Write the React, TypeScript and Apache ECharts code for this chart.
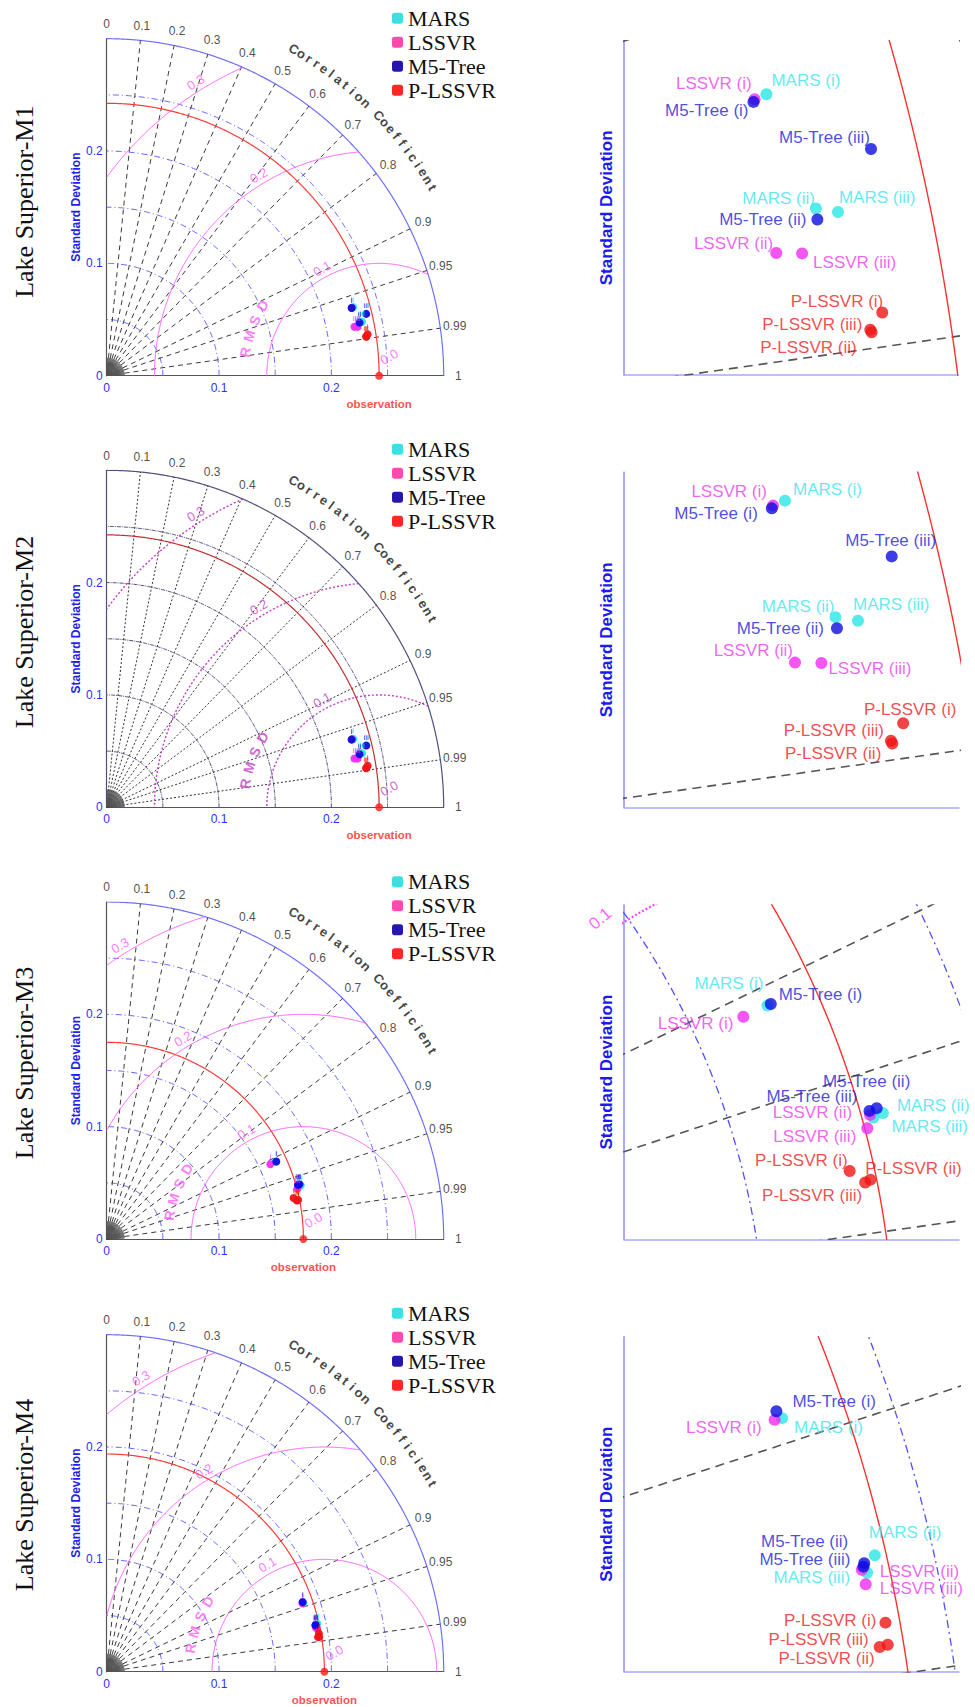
import React, { useEffect, useRef } from 'react';
import * as echarts from 'echarts';

// ---------------- data ----------------
const models = ['MARS', 'LSSVR', 'M5-Tree', 'P-LSSVR'];
const cases = ['i', 'ii', 'iii'];
const panelTitles = ['Lake Superior-M1', 'Lake Superior-M2', 'Lake Superior-M3', 'Lake Superior-M4'];
const observedStd = [0.2425, 0.2425, 0.1751, 0.1938];
const corrTicks = [0, 0.1, 0.2, 0.3, 0.4, 0.5, 0.6, 0.7, 0.8, 0.9, 0.95, 0.99, 1];
const corrTickLabels = ['0', '0.1', '0.2', '0.3', '0.4', '0.5', '0.6', '0.7', '0.8', '0.9', '0.95', '0.99', '1'];
const stdGridLevels = [0.05, 0.1, 0.15, 0.2, 0.25];
const stdMax = 0.3;
const stdTickLabels = ['0', '0.1', '0.2'];
const rmsdLevels = [0.1, 0.2, 0.3];
const rmsdLabels = ['0.1', '0.2', '0.3'];

// std and correlation, [model][case i, ii, iii]
const stdM1 = [[0.2278, 0.2301, 0.2324], [0.2264, 0.2248, 0.2276], [0.2262, 0.2300, 0.2375], [0.2352, 0.2337, 0.2336]];
const corrM1 = [[0.9634, 0.9776, 0.9784], [0.9636, 0.9811, 0.9816], [0.9639, 0.9787, 0.9728], [0.9876, 0.9889, 0.9887]];
const stdM2 = [[0.2278, 0.2301, 0.2324], [0.2264, 0.2248, 0.2276], [0.2262, 0.2300, 0.2375], [0.2352, 0.2337, 0.2336]];
const corrM2 = [[0.9634, 0.9776, 0.9784], [0.9636, 0.9811, 0.9816], [0.9639, 0.9787, 0.9728], [0.9876, 0.9889, 0.9887]];
const stdM3 = [[0.1653, 0.1793, 0.1773], [0.1601, 0.1768, 0.1756], [0.1660, 0.1784, 0.1769], [0.1703, 0.1739, 0.1728]];
const corrM3 = [[0.9095, 0.9639, 0.9644], [0.9096, 0.9634, 0.9669], [0.9095, 0.9620, 0.9622], [0.9768, 0.9798, 0.9802]];
const stdM4 = [[0.1855, 0.1923, 0.1908], [0.1845, 0.1902, 0.1903], [0.1851, 0.1907, 0.1905], [0.1919, 0.1917, 0.1906]];
const corrM4 = [[0.9442, 0.9748, 0.9771], [0.9440, 0.9765, 0.9787], [0.9422, 0.9756, 0.9761], [0.9842, 0.9868, 0.9869]];

const stdAll = [stdM1, stdM2, stdM3, stdM4];
const corrAll = [corrM1, corrM2, corrM3, corrM4];

// ---------------- layout / style ----------------
const SERIF = "'Liberation Serif', 'Times New Roman', Times, serif";
const SANS = "'Liberation Sans', Arial, Helvetica, sans-serif";
const TAYLOR_LEFT = 106.7;
const TAYLOR_SIZE = 337;
const taylorBottom = [375.7, 807.3, 1239, 1671.7];
const zoomLeft = 624;
const zoomTop = [40.7, 472.3, 905, 1336.7];
const zoomW = [334.3, 335, 335, 335];
const zoomH = [334.3, 335, 334.3, 335];
const zoomX = [[0.2037, 0.2407], [0.2020, 0.23834], [0.12237, 0.18766], [0.15419, 0.19862]];
const zoomY = [[0.0300, 0.0670], [0.0278, 0.06414], [0.02315, 0.0883], [0.02747, 0.0719]];
const titleY = [201.7, 632, 1063, 1495];
const legendTop = [6.3, 437.3, 869.7, 1301.3];

// label placement in zoom panels: [align, dx, dy] per [model][case]
const labelPlace: any[] = [
  [
    [['left', 5, -14], ['right', -1, -10], ['left', 1, -14]],
    [['right', -3, -16], ['right', -3, -10], ['left', 11, 9]],
    [['right', -5, 9], ['right', -11, 0], ['right', -1, -11]],
    [['right', 1, -11], ['right', -15, 15], ['right', -8, -5]],
  ],
  [
    [['left', 8, -11], ['right', -1, -11], ['left', -5, -16]],
    [['right', -6, -14], ['right', -2, -12], ['left', 7, 6]],
    [['right', -14, 5], ['right', -13, 0], ['center', -1, -16]],
    [['center', 7, -14], ['right', -11, 10], ['right', -7, -10]],
  ],
  [
    [['right', -4, -22], ['left', 14, -8], ['left', 18, 9]],
    [['right', -10, 7], ['right', -18, -2], ['right', -11, 8]],
    [['left', 8, -9], ['center', -10, -27], ['right', -12, -14]],
    [['right', -2, -10], ['left', -5, -11], ['right', -3, 13]],
  ],
  [
    [['left', 12, 9], ['left', -6, -23], ['right', -17, 5]],
    [['right', -13, 8], ['left', 18, 2], ['left', 14, 4]],
    [['left', 16, -10], ['right', -16, -22], ['right', -13, -7]],
    [['right', -9, -2], ['right', -13, 14], ['right', -11, -7]],
  ],
];

const pointColors = ['#2ce6e6', '#f02cf0', '#0d0de0', '#f01515'];
const labelColors = ['#3ae6ec', '#ee3cee', '#2020d8', '#ee2020'];
const legendColors = ['#33dddd', '#ff3fa8', '#1a0aa8', '#ff1a1a'];

const styleA = {
  std: { color: '#5a5aff', type: [6, 3, 1, 3], width: 1 },
  outer: { color: '#6f6fff', type: 'solid', width: 1.2 },
  corr: { color: '#3a3a3a', type: [5, 4], width: 1 },
  rmsd: { color: '#ff5cff', type: 'solid', width: 1 },
  obs: { color: '#ff3b3b', type: 'solid', width: 1.2 },
  axis: '#555555',
};
const styleB = {
  std: { color: '#474778', type: [4, 1, 1, 1], width: 1 },
  outer: { color: '#50507a', type: 'solid', width: 1.2 },
  corr: { color: '#333333', type: [2, 2], width: 1 },
  rmsd: { color: '#c040c8', type: [2, 2], width: 1.4 },
  obs: { color: '#c03030', type: 'solid', width: 1.2 },
  axis: '#50507a',
};
const styleZoom = {
  std: { color: '#5050ff', type: [8, 4, 2, 4], width: 1.3 },
  outer: { color: '#6f6fff', type: 'solid', width: 1.3 },
  corr: { color: '#555555', type: [9, 6], width: 1.6 },
  rmsd: { color: '#ff40ff', type: [2, 2], width: 2.2 },
  obs: { color: '#ff3030', type: 'solid', width: 1.4 },
  axis: '#9a9aff',
};

// ---------------- geometry helpers ----------------
function arc(r: number, n = 360): number[][] {
  const pts: number[][] = [];
  for (let i = 0; i <= n; i++) {
    const t = (Math.PI / 2) * (i / n);
    pts.push([r * Math.cos(t), r * Math.sin(t)]);
  }
  return pts;
}

function rmsdArc(c: number, R: number, n = 720): number[][] {
  let t0 = 0;
  if (c + R > stdMax) {
    const x = (c * c - R * R + stdMax * stdMax) / (2 * c);
    const y = Math.sqrt(Math.max(0, stdMax * stdMax - x * x));
    t0 = Math.atan2(y, x - c);
  }
  const t1 = R > c ? Math.acos(-c / R) : Math.PI;
  const pts: number[][] = [];
  for (let i = 0; i <= n; i++) {
    const t = t0 + (t1 - t0) * (i / n);
    pts.push([c + R * Math.cos(t), R * Math.sin(t)]);
  }
  return pts;
}

const toXY = (s: number, c: number) => [s * c, s * Math.sqrt(Math.max(0, 1 - c * c))];

function lineSeries(gi: number, data: number[][], ls: any, z = 2) {
  return {
    type: 'line',
    xAxisIndex: gi,
    yAxisIndex: gi,
    data,
    symbol: 'none',
    showSymbol: false,
    silent: true,
    clip: true,
    z,
    lineStyle: { color: ls.color, type: ls.type, width: ls.width },
    emphasis: { disabled: true },
  };
}

function annotSeries(gi: number, items: any[]) {
  return {
    type: 'scatter',
    xAxisIndex: gi,
    yAxisIndex: gi,
    symbol: 'circle',
    symbolSize: 1,
    itemStyle: { color: 'rgba(0,0,0,0)' },
    clip: false,
    silent: true,
    z: 6,
    label: { show: true, position: 'inside', formatter: '{b}' },
    data: items,
  };
}

const txt = (x: number, y: number, text: string, style: any) => ({
  name: text,
  value: [x, y],
  label: { show: true, position: 'inside', formatter: '{b}', ...style },
});

function geometry(gi: number, obs: number, st: any, fan: boolean) {
  const out: any[] = [];
  stdGridLevels.forEach((r) => out.push(lineSeries(gi, arc(r, 500), st.std)));
  out.push(lineSeries(gi, arc(stdMax, 500), st.outer));
  corrTicks.forEach((c) => {
    if (c <= 0 || c >= 1) return;
    out.push(lineSeries(gi, [[0, 0], toXY(stdMax, c)], st.corr));
  });
  if (fan) {
    const pts: number[][] = [];
    for (let a = 3; a < 90; a += 3) {
      pts.push([0, 0]);
      pts.push([0.016 * Math.cos((a * Math.PI) / 180), 0.016 * Math.sin((a * Math.PI) / 180)]);
    }
    pts.push([0, 0]);
    out.push(lineSeries(gi, pts, { color: '#555', type: 'solid', width: 0.6 }));
  }
  rmsdLevels.forEach((R) => out.push(lineSeries(gi, rmsdArc(obs, R, 900), st.rmsd)));
  out.push(lineSeries(gi, arc(obs, 800), st.obs, 3));
  return out;
}

function buildOption() {
  const grid: any[] = [];
  const xAxis: any[] = [];
  const yAxis: any[] = [];
  const series: any[] = [];
  const legend: any[] = [];
  const graphic: any[] = [];

  for (let row = 0; row < 4; row++) {
    const obs = observedStd[row];
    const st = row === 1 ? styleB : styleA;
    const gT = row * 2;
    const gZ = row * 2 + 1;

    // ---------- Taylor grid ----------
    grid.push({ left: TAYLOR_LEFT, top: taylorBottom[row] - TAYLOR_SIZE, width: TAYLOR_SIZE, height: TAYLOR_SIZE, containLabel: false });
    const tickFmt = (v: number) => stdTickLabels[Math.round(v * 10)] ?? '';
    xAxis.push({
      gridIndex: gT, type: 'value', min: 0, max: stdMax, interval: 0.1,
      axisLine: { show: true, onZero: false, lineStyle: { color: st.axis, width: 1.2 } },
      axisTick: { show: false }, splitLine: { show: false },
      axisLabel: { color: '#2f2fff', fontSize: 12, fontFamily: SANS, margin: 6, formatter: tickFmt },
    });
    yAxis.push({
      gridIndex: gT, type: 'value', min: 0, max: stdMax, interval: 0.1,
      axisLine: { show: true, onZero: false, lineStyle: { color: st.axis, width: 1.2 } },
      axisTick: { show: false }, splitLine: { show: false },
      axisLabel: { color: '#2f2fff', fontSize: 12, fontFamily: SANS, margin: 4, formatter: tickFmt },
      name: 'Standard Deviation', nameLocation: 'middle', nameRotate: 90, nameGap: 24,
      nameTextStyle: { color: '#2222ee', fontWeight: 'bold', fontSize: 12, fontFamily: SANS },
    });
    series.push(...geometry(gT, obs, st, true));

    // model points in Taylor
    models.forEach((m, mi) => {
      series.push({
        type: 'scatter', name: m, xAxisIndex: gT, yAxisIndex: gT, symbol: 'circle', symbolSize: 8,
        itemStyle: { color: pointColors[mi], opacity: 0.95 }, z: 5, clip: false, silent: true,
        label: { show: true, position: 'top', distance: 0, formatter: '{b}', fontSize: 8, color: pointColors[mi], fontFamily: SANS },
        data: cases.map((c, ci) => ({ name: c, value: toXY(stdAll[row][mi][ci], corrAll[row][mi][ci]) })),
      });
    });
    // observation point
    series.push({
      type: 'scatter', xAxisIndex: gT, yAxisIndex: gT, symbol: 'circle', symbolSize: 8, z: 5, clip: false, silent: true,
      itemStyle: { color: '#ff1a1a' }, data: [[obs, 0]],
    });

    // annotations of Taylor
    const ann: any[] = [];
    corrTicks.forEach((c, i) => {
      const p = toXY(0.313, c);
      ann.push(txt(p[0], p[1], corrTickLabels[i], { fontSize: 12, color: '#222', fontFamily: SANS }));
    });
    const title = 'Correlation Coefficient';
    for (let i = 0; i < title.length; i++) {
      if (title[i] === ' ') continue;
      const a = 60.2 - (30.2 * i) / (title.length - 1);
      const rad = (a * Math.PI) / 180;
      ann.push(txt(0.335 * Math.cos(rad), 0.335 * Math.sin(rad), title[i], {
        fontSize: 13, fontWeight: 'bold', color: '#111', fontFamily: SANS, rotate: a - 90,
      }));
    }
    const rmsdAng = [118, 121, 122];
    rmsdLevels.forEach((R, i) => {
      const rad = (rmsdAng[i] * Math.PI) / 180;
      ann.push(txt(obs + (R + 0.008) * Math.cos(rad), (R + 0.008) * Math.sin(rad), rmsdLabels[i], {
        fontSize: 13, color: st.rmsd.color, fontFamily: SANS, rotate: 30,
      }));
    });
    {
      const rad = (62 * Math.PI) / 180;
      ann.push(txt(obs + 0.019 * Math.cos(rad), 0.019 * Math.sin(rad), '0.0', {
        fontSize: 13, color: st.rmsd.color, fontFamily: SANS, rotate: 30,
      }));
    }
    ['R', 'M', 'S', 'D'].forEach((ch, i) => {
      const a = 170 - i * 7;
      const rad = (a * Math.PI) / 180;
      ann.push(txt(obs + 0.121 * Math.cos(rad), 0.121 * Math.sin(rad), ch, {
        fontSize: 14, fontWeight: 'bold', color: st.rmsd.color, fontFamily: SANS, rotate: a - 90,
      }));
    });
    ann.push(txt(obs, 0, 'observation', { fontSize: 11.5, fontWeight: 'bold', color: '#ff2222', fontFamily: SANS, offset: [0, 28] }));
    series.push(annotSeries(gT, ann));

    // ---------- zoom grid ----------
    grid.push({ left: zoomLeft, top: zoomTop[row], width: zoomW[row], height: zoomH[row], containLabel: false });
    xAxis.push({
      gridIndex: gZ, type: 'value', min: zoomX[row][0], max: zoomX[row][1],
      axisLine: { show: true, onZero: false, lineStyle: { color: '#a8a8ff', width: 1.5 } },
      axisTick: { show: false }, splitLine: { show: false }, axisLabel: { show: false },
    });
    yAxis.push({
      gridIndex: gZ, type: 'value', min: zoomY[row][0], max: zoomY[row][1],
      axisLine: { show: true, onZero: false, lineStyle: { color: '#8c8cff', width: 1.5 } },
      axisTick: { show: false }, splitLine: { show: false }, axisLabel: { show: false },
      name: 'Standard Deviation', nameLocation: 'middle', nameRotate: 90, nameGap: 9,
      nameTextStyle: { color: '#1a1aee', fontWeight: 'bold', fontSize: 17, fontFamily: SANS },
    });
    series.push(...geometry(gZ, obs, styleZoom, false));

    models.forEach((m, mi) => {
      series.push({
        type: 'scatter', name: m, xAxisIndex: gZ, yAxisIndex: gZ, symbol: 'circle', symbolSize: 12,
        itemStyle: { color: pointColors[mi] }, z: 5, clip: true, silent: true,
        data: cases.map((c, ci) => {
          const lp = labelPlace[row][mi][ci];
          return {
            name: `${m} (${c})`,
            value: toXY(stdAll[row][mi][ci], corrAll[row][mi][ci]),
            label: {
              show: true, position: 'inside', formatter: '{b}', align: lp[0], verticalAlign: 'middle',
              offset: [lp[1], lp[2]], color: labelColors[mi], fontSize: 17, fontFamily: SANS,
            },
          };
        }),
      });
    });

    // RMSD label where an RMSD arc enters the zoom window from its left edge
    const zAnn: any[] = [];
    rmsdLevels.forEach((R, i) => {
      const x0 = zoomX[row][0];
      const d = R * R - (x0 - obs) * (x0 - obs);
      if (d <= 0) return;
      const y = Math.sqrt(d);
      if (y > zoomY[row][0] && y < zoomY[row][1]) {
        zAnn.push(txt(x0, y, rmsdLabels[i], { fontSize: 17, color: '#ff40ff', fontFamily: SANS, rotate: 40, offset: [-16, -18] }));
      }
    });
    if (zAnn.length) series.push(annotSeries(gZ, zAnn));

    // legend
    legend.push({
      orient: 'vertical', left: 392, top: legendTop[row], padding: 0, itemGap: 0,
      itemWidth: 11, itemHeight: 11, icon: 'roundRect', selectedMode: false,
      textStyle: { fontFamily: SERIF, fontSize: 22, color: '#111', lineHeight: 24 },
      data: models.map((m, mi) => ({ name: m, itemStyle: { color: legendColors[mi] } })),
    });

    graphic.push({
      type: 'text', x: 24, y: titleY[row], rotation: Math.PI / 2, silent: true,
      style: { text: panelTitles[row], fontSize: 26, fontFamily: SERIF, fill: '#111', align: 'center', verticalAlign: 'middle' },
    });
  }

  return { backgroundColor: '#ffffff', animation: false, grid, xAxis, yAxis, legend, graphic, series };
}

export default function App() {
  const ref = useRef<HTMLDivElement>(null);
  useEffect(() => {
    if (!ref.current) return;
    const chart = echarts.init(ref.current, undefined, { renderer: 'svg' });
    chart.setOption(buildOption() as any);
    return () => chart.dispose();
  }, []);
  return <div ref={ref} style={{ position: 'absolute', left: 0, top: 0, width: 975, height: 1707 }} />;
}
